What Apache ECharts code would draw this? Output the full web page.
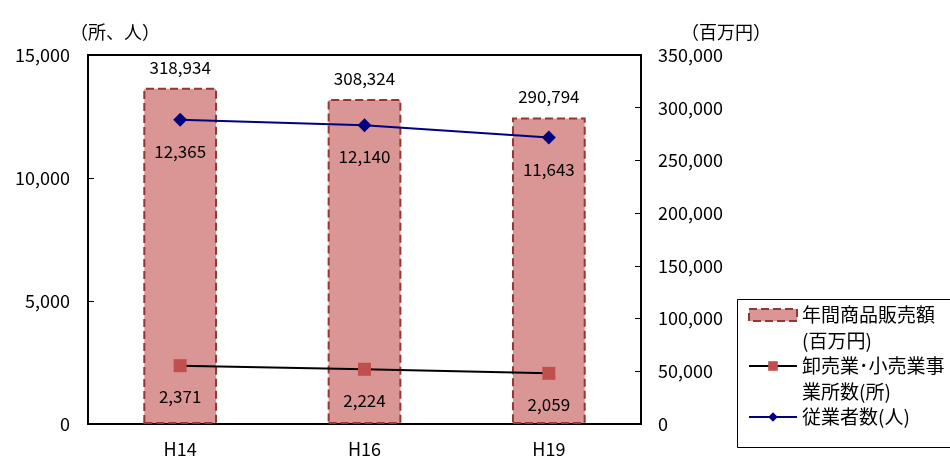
<!DOCTYPE html>
<html>
<head>
<meta charset="utf-8">
<script src="https://cdn.jsdelivr.net/npm/echarts@6/dist/echarts.min.js"></script>
<style>
html,body{margin:0;padding:0;background:#fff;}
#c{width:950px;height:458px;}
</style>
</head>
<body>
<div id="c"></div>
<script>
// Survey years
const categories = ['H14', 'H16', 'H19'];
// Annual merchandise sales (million yen), right axis
const salesValues = [318934, 308324, 290794];
// Wholesale and retail establishments (count), left axis
const establishmentValues = [2371, 2224, 2059];
// Employees (persons), left axis
const employeeValues = [12365, 12140, 11643];

const seriesNames = ['年間商品販売額(百万円)', '卸売業･小売業事業所数(所)', '従業者数(人)'];
const legendFirstLines = ['年間商品販売額', '卸売業･小売業事', '従業者数(人)'];

const FONT = '"Noto Sans CJK JP", "Noto Sans", sans-serif';
const fmt = v => v.toLocaleString('en-US');

const chart = echarts.init(document.getElementById('c'), null, { renderer: 'canvas' });

chart.setOption({
  backgroundColor: '#fff',
  animation: false,
  textStyle: { fontFamily: FONT, color: '#000' },
  grid: {
    left: 88, right: 309, top: 55, bottom: 30,
    show: true, borderColor: '#000', borderWidth: 2, backgroundColor: 'transparent'
  },
  xAxis: {
    type: 'category',
    data: categories,
    boundaryGap: true,
    axisLine: { lineStyle: { color: '#000', width: 2 } },
    axisTick: { inside: true, length: 6, lineStyle: { color: '#000', width: 1 } },
    axisLabel: { fontSize: 18, color: '#000', margin: 16, fontFamily: FONT }
  },
  yAxis: [
    {
      type: 'value', min: 0, max: 15000, interval: 5000,
      name: '（所、人）', nameLocation: 'end', nameGap: 14,
      nameTextStyle: { fontSize: 18, color: '#000', align: 'left', padding: [0, 0, 0, -18] },
      axisLine: { show: true, lineStyle: { color: '#000', width: 2 } },
      axisTick: { show: true, inside: true, length: 6, lineStyle: { color: '#000' } },
      splitLine: { show: false },
      axisLabel: { fontSize: 18, color: '#000', margin: 18, formatter: v => fmt(v) }
    },
    {
      type: 'value', min: 0, max: 350000, interval: 50000,
      name: '（百万円）', nameLocation: 'end', nameGap: 14,
      nameTextStyle: { fontSize: 18, color: '#000', align: 'left', padding: [0, 0, 0, 40] },
      axisLine: { show: true, lineStyle: { color: '#000', width: 2 } },
      axisTick: { show: true, inside: true, length: 6, lineStyle: { color: '#000' } },
      splitLine: { show: false },
      axisLabel: { fontSize: 18, color: '#000', margin: 17, formatter: v => fmt(v) }
    }
  ],
  legend: {
    orient: 'vertical',
    left: 748, top: 304, padding: 0,
    itemWidth: 48, itemHeight: 12, itemGap: 29,
    textStyle: { fontSize: 19, color: '#000', lineHeight: 22, fontFamily: FONT },
    formatter: name => legendFirstLines[seriesNames.indexOf(name)],
    data: [
      { name: seriesNames[0], icon: 'rect',
        itemStyle: { color: '#D99694', borderColor: '#943634', borderWidth: 2, borderType: 'dashed' } },
      { name: seriesNames[1] },
      { name: seriesNames[2] }
    ]
  },
  graphic: [
    { type: 'rect', shape: { x: 737.5, y: 299.5, width: 230, height: 148 },
      style: { fill: 'none', stroke: '#000', lineWidth: 1 }, silent: true },
    { type: 'text', left: 802, top: 331,
      style: { text: '(百万円)', font: '19px ' + FONT, fill: '#000' } },
    { type: 'text', left: 802, top: 382,
      style: { text: '業所数(所)', font: '19px ' + FONT, fill: '#000' } }
  ],
  series: [
    {
      name: seriesNames[0], type: 'bar', yAxisIndex: 1,
      data: salesValues, barWidth: '40%',
      itemStyle: { color: '#D99694', borderColor: '#943634', borderWidth: 2, borderType: 'dashed' },
      label: { show: true, position: 'top', distance: 12, fontSize: 17, color: '#000',
               formatter: p => fmt(p.value) },
      z: 1
    },
    {
      name: seriesNames[1], type: 'line', yAxisIndex: 0,
      data: establishmentValues,
      symbol: 'rect', symbolSize: 13,
      lineStyle: { color: '#000', width: 2 },
      itemStyle: { color: '#C0504D' },
      label: { show: true, position: 'bottom', distance: 16, fontSize: 17, color: '#000',
               formatter: p => fmt(p.value) },
      z: 3
    },
    {
      name: seriesNames[2], type: 'line', yAxisIndex: 0,
      data: employeeValues,
      symbol: 'diamond', symbolSize: 14,
      lineStyle: { color: '#000080', width: 2 },
      itemStyle: { color: '#000080' },
      label: { show: true, position: 'bottom', distance: 16, fontSize: 17, color: '#000',
               formatter: p => fmt(p.value) },
      z: 3
    }
  ]
});
</script>
</body>
</html>
